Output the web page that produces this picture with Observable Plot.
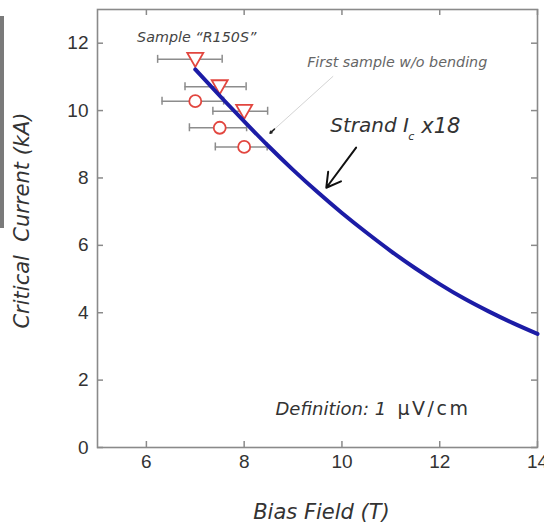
<!DOCTYPE html>
<html><head><meta charset="utf-8">
<script src="https://cdn.jsdelivr.net/npm/d3@7"></script>
<script src="https://cdn.jsdelivr.net/npm/@observablehq/plot@0.6"></script>
<style>
body{margin:0;overflow:hidden;background:#fff;}
#wrap{position:relative;width:544px;height:525px;overflow:hidden;}
#strip{position:absolute;left:0;top:16px;width:4px;height:212px;background:#7a7a7a;z-index:2;}
</style></head><body><div id="wrap"><div id="strip"></div></div>
<script>
// Strand Ic x18 curve
const curveField = [7, 7.5, 8, 8.5, 9, 9.5, 10, 10.5, 11, 11.5, 12, 12.5, 13, 13.5, 14];
const curveIc = [11.22, 10.44, 9.68, 8.94, 8.24, 7.58, 6.96, 6.38, 5.83, 5.32, 4.85, 4.42, 4.04, 3.69, 3.37];
// Sample "R150S" measurements (triangles)
const triField = [7.0, 7.5, 8.0];
const triIc = [11.52, 10.71, 9.98];
const triLo = [6.23, 6.79, 7.36];
const triHi = [7.55, 8.04, 8.48];
// circles
const circField = [7.0, 7.5, 8.0];
const circIc = [10.28, 9.49, 8.92];
const circLo = [6.32, 6.88, 7.41];
const circHi = [7.58, 8.05, 8.47];
// axes
const xTicks = [6, 8, 10, 12, 14];
const yTicks = [0, 2, 4, 6, 8, 10, 12];
const xLabel = "Bias Field (T)";
const yLabel = "Critical  Current (kA)";
// annotations
const sampleNote = [{x: 7.03, y: 12.16, text: "Sample \u201CR150S\u201D"}];
const firstNote = [{x: 11.13, y: 11.44, text: "First sample w/o bending"}];
const strandNote = [{x: 9.76, y: 9.54}];
const defNote = [{x: 8.64, y: 1.15}];
const strandArrow = [{x1: 10.29, y1: 8.90, x2: 9.68, y2: 7.71}];
const leader = [{x1: 9.82, y1: 11.02, x2: 8.53, y2: 9.33}];
const leaderHead = [{x1: 8.62, y1: 9.45, x2: 8.53, y2: 9.33}];

const curve = curveField.map((x, i) => ({x, y: curveIc[i]}));
const tri = triField.map((x, i) => ({x, y: triIc[i], lo: triLo[i], hi: triHi[i]}));
const circ = circField.map((x, i) => ({x, y: circIc[i], lo: circLo[i], hi: circHi[i]}));
const bars = [...tri, ...circ];

const downTriangle = {
  draw(context, size) {
    const r = Math.sqrt(size / Math.PI);
    context.moveTo(-r, -r * 0.8);
    context.lineTo(r, -r * 0.8);
    context.lineTo(0, r * 0.95);
    context.closePath();
  }
};

const red = "#e2463f";
const frameGray = "#8a8a8a";
const italic = "DejaVu Sans";
const W = 544, H = 525, mL = 97, mR = 7, mT = 9, mB = 78;
const pw = W - mL - mR, ph = H - mT - mB;

const chart = Plot.plot({
  width: W, height: H,
  marginLeft: mL, marginRight: mR, marginTop: mT, marginBottom: mB,
  style: {background: "white", overflow: "hidden"},
  x: {domain: [5, 14]},
  y: {domain: [0, 13]},
  marks: [
    Plot.axisX(xTicks, {tickSize: 0, tickPadding: 7, fontSize: 19, fill: "#333", fontFamily: "Liberation Sans", label: null}),
    Plot.axisY(yTicks, {tickSize: 0, tickPadding: 9, fontSize: 19, fill: "#333", fontFamily: "Liberation Sans", label: null}),
    // inward ticks on all four sides
    Plot.ruleX(xTicks, {x: d => d, insetTop: ph - 6, stroke: frameGray, strokeWidth: 1.5}),
    Plot.ruleX(xTicks, {x: d => d, insetBottom: ph - 6, stroke: frameGray, strokeWidth: 1.5}),
    Plot.ruleY(yTicks, {y: d => d, insetRight: pw - 6, stroke: frameGray, strokeWidth: 1.5}),
    Plot.ruleY(yTicks, {y: d => d, insetLeft: pw - 6, stroke: frameGray, strokeWidth: 1.5}),
    Plot.frame({stroke: frameGray, strokeWidth: 1.6}),
    // axis titles
    Plot.text([xLabel], {frameAnchor: "bottom", textAnchor: "middle", lineAnchor: "middle", dx: 4, dy: 65, text: d => d, fontSize: 21, fontStyle: "italic", fontFamily: italic, fill: "#333"}),
    Plot.text([yLabel], {frameAnchor: "left", textAnchor: "middle", lineAnchor: "middle", dx: 22 - mL, dy: -8, rotate: -90, text: d => d, fontSize: 21, fontStyle: "italic", fontFamily: italic, fill: "#333"}),
    // error bars
    Plot.ruleY(bars, {y: "y", x1: "lo", x2: "hi", stroke: "#8c8c8c", strokeWidth: 1.5}),
    Plot.ruleX(bars, {x: "lo", y1: "y", y2: "y", insetTop: -4, insetBottom: -4, stroke: "#8c8c8c", strokeWidth: 1.5}),
    Plot.ruleX(bars, {x: "hi", y1: "y", y2: "y", insetTop: -4, insetBottom: -4, stroke: "#8c8c8c", strokeWidth: 1.5}),
    // markers
    Plot.dot(circ, {x: "x", y: "y", r: 6, stroke: red, fill: "white", strokeWidth: 1.8}),
    Plot.dot(tri, {x: "x", y: "y", r: 8, symbol: downTriangle, stroke: red, fill: "white", strokeWidth: 1.8}),
    // strand curve
    Plot.line(curve, {x: "x", y: "y", stroke: "#1c1ca6", strokeWidth: 4, curve: "natural"}),
    // annotations
    Plot.text(sampleNote, {x: "x", y: "y", text: "text", fontSize: 14.3, fontStyle: "italic", fontFamily: italic, fill: "#444"}),
    Plot.text(firstNote, {x: "x", y: "y", text: "text", fontSize: 14.3, fontStyle: "italic", fontFamily: italic, fill: "#666"}),
    Plot.link(leader, {x1: "x1", y1: "y1", x2: "x2", y2: "y2", stroke: "#d4d4d4", strokeWidth: 1}),
    Plot.arrow(leaderHead, {x1: "x1", y1: "y1", x2: "x2", y2: "y2", stroke: "#222", strokeWidth: 1.5, headLength: 8}),
    Plot.text(strandNote, {x: "x", y: "y", text: () => "Strand I", textAnchor: "start", fontSize: 20, fontStyle: "italic", fontFamily: italic, fill: "#333"}),
    Plot.text(strandNote, {x: "x", y: "y", text: () => "c", textAnchor: "start", dx: 78, dy: 10, fontSize: 11, fontStyle: "italic", fontFamily: italic, fill: "#333"}),
    Plot.text(strandNote, {x: "x", y: "y", text: () => "x18", textAnchor: "start", dx: 91, fontSize: 21, fontStyle: "italic", fontFamily: italic, fill: "#333"}),
    Plot.arrow(strandArrow, {x1: "x1", y1: "y1", x2: "x2", y2: "y2", stroke: "#111", strokeWidth: 2, headLength: 12}),
    Plot.text(defNote, {x: "x", y: "y", text: () => "Definition: 1", textAnchor: "start", fontSize: 18, fontStyle: "italic", fontFamily: italic, fill: "#333"}),
    Plot.text(defNote, {x: "x", y: "y", text: () => "\u00B5V/cm", textAnchor: "start", dx: 122, fontSize: 19, fontFamily: italic, fill: "#333"})
  ]
});
d3.select(chart).selectAll("text").filter(function() { return this.textContent === "\u00B5V/cm"; }).attr("letter-spacing", 2.5);
document.getElementById("wrap").appendChild(chart);
</script></body></html>
